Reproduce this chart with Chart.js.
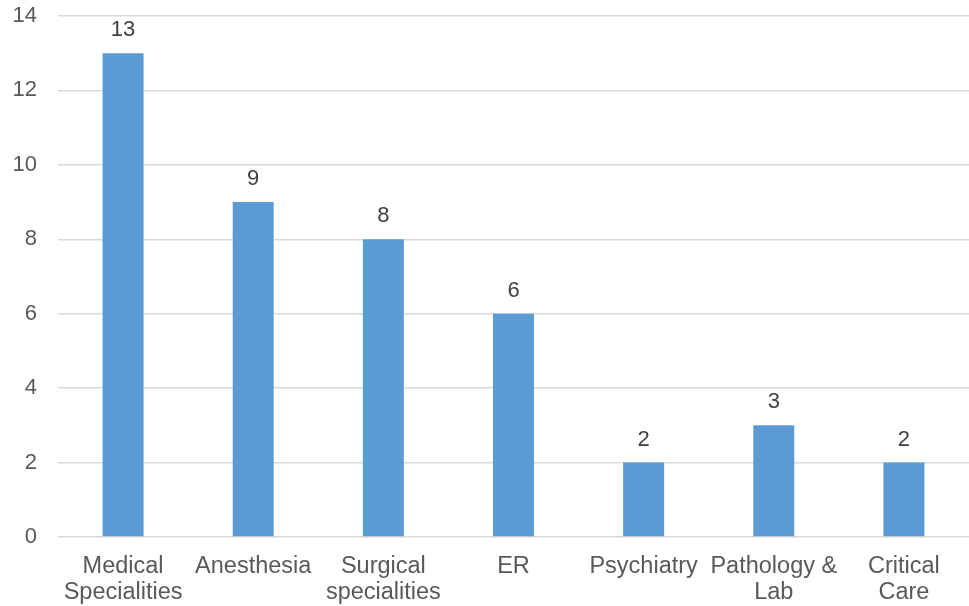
<!DOCTYPE html>
<html>
<head>
<meta charset="utf-8">
<script src="https://cdn.jsdelivr.net/npm/chart.js@4/dist/chart.umd.min.js"></script>
<style>
  html, body { margin: 0; padding: 0; background: #fff; }
  #wrap { width: 969px; height: 606px; }
</style>
</head>
<body>
<div id="wrap"><canvas id="c" width="969" height="606"></canvas></div>
<script>
// Specialty categories (multi-line labels are arrays)
const categories = [
  ['Medical', 'Specialities'],
  'Anesthesia',
  ['Surgical', 'specialities'],
  'ER',
  'Psychiatry',
  ['Pathology &', 'Lab'],
  ['Critical', 'Care']
];
const counts = [13, 9, 8, 6, 2, 3, 2];
const yTicks = [0, 2, 4, 6, 8, 10, 12, 14];

const FONT = '"Liberation Sans", Arial, sans-serif';

// Draws each bar's value just above the bar
const valueLabels = {
  id: 'valueLabels',
  afterDatasetsDraw(chart) {
    const ctx = chart.ctx;
    const meta = chart.getDatasetMeta(0);
    ctx.save();
    ctx.font = '22px ' + FONT;
    ctx.fillStyle = '#404040';
    ctx.textAlign = 'center';
    ctx.textBaseline = 'alphabetic';
    meta.data.forEach((bar, i) => {
      ctx.fillText(String(chart.data.datasets[0].data[i]), bar.x, bar.y - 17);
    });
    ctx.restore();
  }
};

new Chart(document.getElementById('c'), {
  type: 'bar',
  data: {
    labels: categories,
    datasets: [{
      data: counts,
      backgroundColor: '#5b9bd5',
      borderWidth: 0,
      barPercentage: 0.63,
      categoryPercentage: 0.5
    }]
  },
  options: {
    responsive: false,
    animation: false,
    devicePixelRatio: 1,
    layout: { padding: { top: 16, right: 0, left: 0, bottom: 0 } },
    plugins: { legend: { display: false }, tooltip: { enabled: false } },
    scales: {
      x: {
        grid: { display: false, drawTicks: false },
        border: { display: false },
        ticks: {
          color: '#595959',
          font: { family: FONT, size: 23.5, lineHeight: 1.1 },
          padding: 17,
          maxRotation: 0,
          autoSkip: false
        },
        afterFit(scale) { scale.height = 69; }
      },
      y: {
        min: 0,
        max: 14,
        afterBuildTicks(scale) { scale.ticks = yTicks.map(v => ({ value: v })); },
        grid: { color: '#d9d9d9', lineWidth: 1.5, drawTicks: false },
        border: { display: false },
        ticks: {
          color: '#595959',
          font: { family: FONT, size: 22 },
          padding: 21
        },
        afterFit(scale) {
          scale.width = 58;
          scale.paddingTop = 0;
          scale.paddingBottom = 0;
        }
      }
    }
  },
  plugins: [valueLabels]
});
</script>
</body>
</html>
